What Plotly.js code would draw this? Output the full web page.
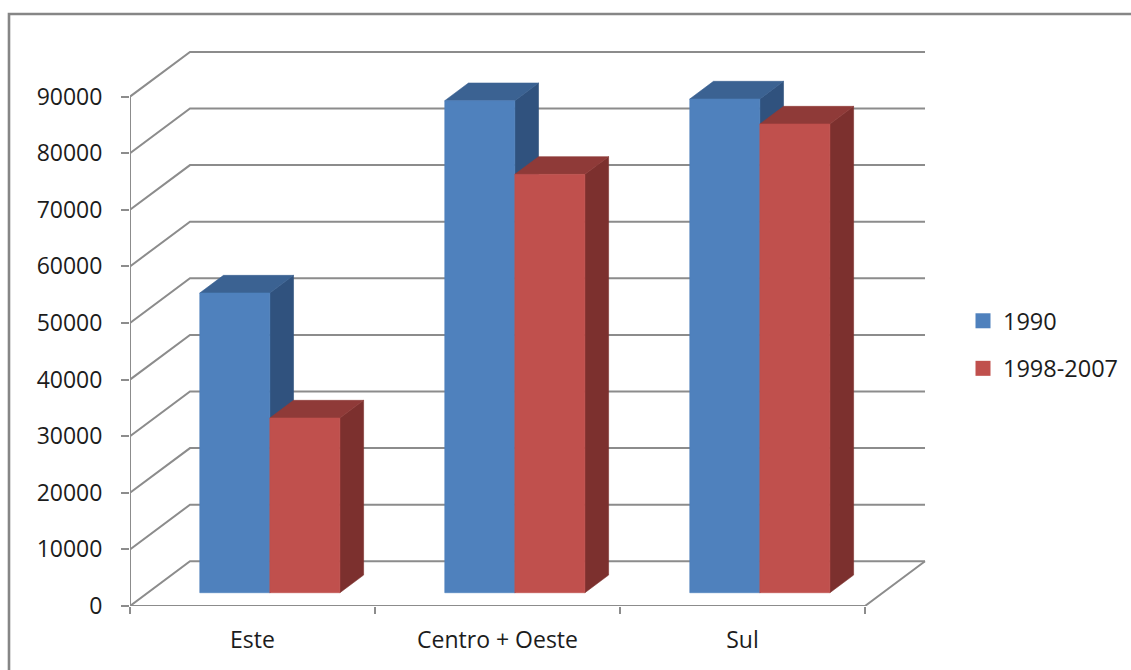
<!DOCTYPE html>
<html>
<head>
<meta charset="utf-8">
<script src="https://cdn.plot.ly/plotly-3.0.1.min.js"></script>
<style>html,body{margin:0;padding:0;background:#fff;overflow:hidden}</style>
</head>
<body>
<div id="chart" style="width:1131px;height:670px"></div>
<script>
// Regional values per period
const regions = ['Este', 'Centro + Oeste', 'Sul'];
const values1990 = [52950, 86930, 87230];
const values1998 = [30870, 73920, 82810];
const seriesNames = ['1990', '1998-2007'];
const gridValues = [0, 10000, 20000, 30000, 40000, 50000, 60000, 70000, 80000, 90000];

// Oblique projection: how far one unit of depth moves a point, in axis units
const DEPTH_X = 60 / 245;
const DEPTH_Y = 7900;
// Bars occupy this depth slice of the floor
const BAR_FRONT = 0.297;
const BAR_BACK = 0.692;
const BAR_WIDTH = 0.286;
const BAR_MARGIN = 0.212;

const AXIS_COLOR = '#8c8c8c';
const AXIS_WIDTH = 2;
const TEXT_FONT = {family: '"Open Sans", sans-serif', size: 23, color: '#1c1c1c'};
const LEGEND_FONT = {family: '"Open Sans", sans-serif', size: 23.5, color: '#1c1c1c'};

const project = (x, v, d) => [x + d * DEPTH_X, v + d * DEPTH_Y];

// Collects closed polygons into one x/y pair, split by nulls
function polygons(list) {
  const xs = [], ys = [];
  list.forEach(poly => {
    poly.concat([poly[0]]).forEach(p => { xs.push(p[0]); ys.push(p[1]); });
    xs.push(null); ys.push(null);
  });
  return {x: xs, y: ys};
}

function face(points, color) {
  return Object.assign({
    type: 'scatter', mode: 'lines', fill: 'toself', fillcolor: color,
    line: {color: color, width: 0.6}, showlegend: false, hoverinfo: 'skip', cliponaxis: false
  }, polygons(points));
}

// Side, top and front faces of one series; slot 0 is the left bar of each group
function barFaces(values, slot, front, side, top) {
  const corners = values.map((v, i) => {
    const x0 = i + BAR_MARGIN + slot * BAR_WIDTH, x1 = x0 + BAR_WIDTH;
    return {x0, x1, v};
  });
  return [
    face(corners.map(c => [project(c.x1, 0, BAR_FRONT), project(c.x1, 0, BAR_BACK),
                           project(c.x1, c.v, BAR_BACK), project(c.x1, c.v, BAR_FRONT)]), side),
    face(corners.map(c => [project(c.x0, c.v, BAR_FRONT), project(c.x0, c.v, BAR_BACK),
                           project(c.x1, c.v, BAR_BACK), project(c.x1, c.v, BAR_FRONT)]), top),
    face(corners.map(c => [project(c.x0, 0, BAR_FRONT), project(c.x1, 0, BAR_FRONT),
                           project(c.x1, c.v, BAR_FRONT), project(c.x0, c.v, BAR_FRONT)]), front)
  ];
}

const axisLine = {color: AXIS_COLOR, width: AXIS_WIDTH};
const nCat = regions.length;

// Wall gridlines with their slanted run across the side wall
const wallX = [], wallY = [];
gridValues.forEach(v => {
  wallX.push(0, DEPTH_X, nCat + DEPTH_X, null);
  wallY.push(v, v + DEPTH_Y, v + DEPTH_Y, null);
});
const walls = {type: 'scatter', mode: 'lines', x: wallX, y: wallY, line: axisLine,
               showlegend: false, hoverinfo: 'skip', cliponaxis: false};

// Front axis lines and the right edge of the floor
const frame = {type: 'scatter', mode: 'lines',
  x: [0, 0, null, 0, nCat, nCat + DEPTH_X],
  y: [gridValues[gridValues.length - 1], 0, null, 0, 0, DEPTH_Y],
  line: axisLine, showlegend: false, hoverinfo: 'skip', cliponaxis: false};

// Legend entries with square swatches
const legendEntry = (name, color) => ({
  type: 'scatter', mode: 'markers', x: [null], y: [null], name: name, legendgroup: name,
  marker: {symbol: 'square', size: 15, color: color}, hoverinfo: 'skip'
});

const traces = [walls, frame]
  .concat(barFaces(values1990, 0, '#4F81BD', '#30527E', '#3B6292'))
  .concat(barFaces(values1998, 1, '#C0504D', '#7C302E', '#8F3A38'))
  .concat([legendEntry(seriesNames[0], '#4F81BD'), legendEntry(seriesNames[1], '#C0504D')]);

const layout = {
  width: 1131, height: 670, autosize: false,
  margin: {l: 130, r: 191, t: 40, b: 64, pad: 0},
  paper_bgcolor: '#fff', plot_bgcolor: 'rgba(0,0,0,0)',
  showlegend: true,
  font: TEXT_FONT,
  xaxis: {
    range: [0, 810 / 245], showgrid: false, zeroline: false, showline: false,
    tickmode: 'array', tickvals: regions.map((_, i) => i + 0.5), ticktext: regions,
    ticks: '', ticklabelstandoff: 18, tickfont: TEXT_FONT,
    minor: {tickmode: 'array', tickvals: [0, 1, 2, 3], ticks: 'outside', ticklen: 7,
            tickwidth: AXIS_WIDTH, tickcolor: AXIS_COLOR, showgrid: false}
  },
  yaxis: {
    range: [0, 100000], showgrid: false, zeroline: false, showline: false,
    tickmode: 'array', tickvals: gridValues, tickformat: 'd',
    ticks: 'outside', ticklen: 8, tickwidth: AXIS_WIDTH, tickcolor: AXIS_COLOR,
    ticklabelstandoff: 14, tickfont: TEXT_FONT
  },
  legend: {
    xref: 'container', yref: 'container',
    x: 963 / 1131, y: 1 - 299 / 670, xanchor: 'left', yanchor: 'top',
    font: LEGEND_FONT, tracegroupgap: 14, traceorder: 'grouped',
    bgcolor: 'rgba(0,0,0,0)', itemclick: false, itemdoubleclick: false
  },
  shapes: [{
    // Chart frame running off the right and bottom of the page
    type: 'path', xref: 'paper', yref: 'paper', layer: 'below',
    path: 'M ' + (-121 / 810) + ' ' + (-80 / 566) + ' L ' + (-121 / 810) + ' ' + (592 / 566) +
          ' L ' + (1020 / 810) + ' ' + (592 / 566),
    line: {color: '#868686', width: 2.6}
  }]
};

Plotly.newPlot('chart', traces, layout, {displayModeBar: false, staticPlot: true});
</script>
</body>
</html>
